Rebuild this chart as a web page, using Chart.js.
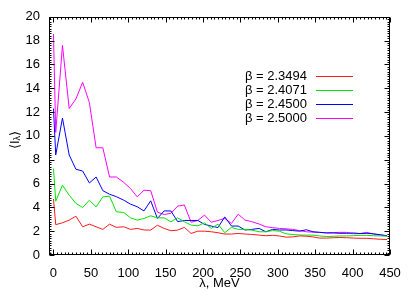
<!DOCTYPE html>
<html>
<head>
<meta charset="utf-8">
<script src="https://cdn.jsdelivr.net/npm/chart.js@4.4.0/dist/chart.umd.min.js"></script>
<style>
  html, body { margin: 0; padding: 0; background: #ffffff; }
  #wrap { width: 415px; height: 291px; }
</style>
</head>
<body>
<div id="wrap"><canvas id="c" width="415" height="291"></canvas></div>
<script>
// ---- data ----
const lambdaMeV = [0, 3, 12, 21, 30, 39, 48, 57, 66, 75, 84, 94, 103, 112, 121, 130, 139, 148, 157, 166,
  175, 184, 193, 202, 211, 220, 229, 238, 247, 256, 265, 275, 284, 293, 302, 311, 320, 329, 338, 347,
  356, 365, 374, 383, 392, 401, 410, 419, 428, 437, 446];

const beta23494 = [4.7, 2.55, 2.7, 2.93, 3.26, 2.37, 2.59, 2.37, 2.15, 2.59, 2.32, 2.37, 2.15, 2.23, 2.1,
  2.09, 2.5, 2.23, 2.04, 2.09, 2.32, 1.81, 2.0, 2.0, 1.95, 1.87, 1.76, 1.76, 1.81, 1.76, 1.73, 1.67, 1.62,
  1.65, 1.6, 1.5, 1.52, 1.6, 1.58, 1.52, 1.42, 1.42, 1.45, 1.47, 1.45, 1.42, 1.4, 1.4, 1.36, 1.32, 1.3];

const beta24071 = [7.25, 4.52, 5.86, 5.02, 4.33, 3.99, 4.6, 4.04, 4.88, 4.94, 3.63, 3.57, 3.12, 2.93, 3.07,
  3.29, 3.12, 3.12, 2.79, 3.12, 2.79, 2.51, 2.45, 2.7, 2.23, 2.59, 1.87, 2.32, 2.15, 2.15, 2.09, 1.95, 1.95,
  2.05, 2.0, 1.78, 1.72, 1.68, 1.67, 1.67, 1.6, 1.55, 1.57, 1.6, 1.6, 1.62, 1.65, 1.65, 1.62, 1.6, 1.58];

const beta24500 = [12.3, 8.4, 11.5, 8.4, 7.2, 7.05, 6.05, 6.55, 5.4, 5.1, 4.9, 4.6, 4.27, 4.05, 3.7,
  4.55, 3.07, 3.7, 3.7, 2.8, 2.9, 2.9, 2.9, 2.57, 2.43, 2.3, 3.2, 2.43, 2.43, 2.1, 2.15, 2.23, 1.95,
  2.15, 2.1, 2.1, 2.05, 2.0, 2.12, 1.95, 1.9, 1.85, 1.85, 1.82, 1.82, 1.85, 1.8, 1.82, 1.78, 1.7, 1.62];

const beta25000 = [18.55, 10.3, 17.6, 12.3, 13.1, 14.5, 12.8, 9.0, 9.0, 6.55, 6.55, 6.1, 5.58, 4.88, 5.44,
  5.4, 3.6, 3.4, 3.5, 4.1, 4.2, 2.75, 2.9, 3.35, 2.75, 2.9, 3.07, 2.65, 3.43, 2.93, 2.8, 2.6, 2.37,
  2.3, 2.23, 2.2, 2.15, 2.05, 1.95, 1.92, 1.9, 1.87, 1.88, 1.9, 1.9, 1.78, 1.8, 1.9, 1.75, 1.68, 1.62];

const seriesLabels = ["β = 2.3494", "β = 2.4071", "β = 2.4500", "β = 2.5000"];
const seriesColors = ["#ff1a1a", "#00e600", "#0000ff", "#ff00ff"];
const xTickValues = [0, 50, 100, 150, 200, 250, 300, 350, 400, 450];
const yTickValues = [0, 2, 4, 6, 8, 10, 12, 14, 16, 18, 20];
const xTitle = "λ, MeV";
const xRange = [-6, 450];
const yRange = [0, 20];

const FONT = "'Liberation Sans', Arial, Helvetica, sans-serif";

function pts(arr) { return arr.map((v, i) => ({ x: lambdaMeV[i], y: v })); }
const seriesValues = [beta23494, beta24071, beta24500, beta25000];

const datasets = seriesValues.map((arr, i) => ({
  label: seriesLabels[i],
  data: pts(arr),
  borderColor: seriesColors[i],
  backgroundColor: seriesColors[i],
  borderWidth: 1,
  pointRadius: 0,
  tension: 0,
  fill: false
}));

const framePlugin = {
  id: 'frame',
  afterDraw(chart) {
    const ctx = chart.ctx;
    const a = chart.chartArea;
    const xs = chart.scales.x, ys = chart.scales.y;
    ctx.save();
    ctx.strokeStyle = '#000';
    ctx.lineWidth = 1;
    const L = Math.round(a.left) + 0.5, R = Math.round(a.right) - 0.5;
    const T = Math.round(a.top) + 0.5, B = Math.round(a.bottom) - 0.5;
    ctx.beginPath();
    for (let v = -5; v <= 450; v += 5) {
      const px = Math.round(xs.getPixelForValue(v)) + 0.5;
      const len = (v % 50 === 0) ? 5 : 2;
      ctx.moveTo(px, B); ctx.lineTo(px, B - len);
      ctx.moveTo(px, T); ctx.lineTo(px, T + len);
    }
    for (let k = 0; k <= 100; k++) {
      const v = k * 0.2;
      const py = Math.round(ys.getPixelForValue(v)) + 0.5;
      const len = (k % 10 === 0) ? 5 : 2;
      ctx.moveTo(L, py); ctx.lineTo(L + len, py);
      ctx.moveTo(R, py); ctx.lineTo(R - len, py);
    }
    ctx.stroke();
    ctx.strokeRect(L, T, R - L, B - T);

    // legend
    ctx.font = '13px ' + FONT;
    ctx.textBaseline = 'middle';
    ctx.textAlign = 'right';
    chart.data.datasets.forEach((ds, i) => {
      const y = 76 + 14 * i;
      ctx.fillStyle = '#000';
      ctx.fillText(ds.label, 307, y);
      ctx.strokeStyle = ds.borderColor;
      ctx.beginPath();
      ctx.moveTo(316, y + 0.5); ctx.lineTo(353, y + 0.5);
      ctx.stroke();
    });

    // x title
    ctx.fillStyle = '#000';
    ctx.textAlign = 'center';
    ctx.textBaseline = 'middle';
    ctx.font = '13px ' + FONT;
    ctx.fillText(xTitle, (a.left + a.right) / 2, 283);

    // y title: <I_λ>
    ctx.save();
    ctx.translate(15, 140);
    ctx.rotate(-Math.PI / 2);
    ctx.textAlign = 'left';
    ctx.textBaseline = 'middle';
    const big = '13px ' + FONT, small = '9px ' + FONT;
    ctx.font = big; const w1 = ctx.measureText('⟨I').width;
    ctx.font = small; const w2 = ctx.measureText('λ').width;
    ctx.font = big; const w3 = ctx.measureText('⟩').width;
    let x0 = -(w1 + w2 + w3) / 2;
    ctx.font = big; ctx.fillText('⟨I', x0, 0);
    ctx.font = small; ctx.fillText('λ', x0 + w1, 3);
    ctx.font = big; ctx.fillText('⟩', x0 + w1 + w2, 0);
    ctx.restore();

    ctx.restore();
  }
};

new Chart(document.getElementById('c'), {
  type: 'line',
  data: { datasets },
  plugins: [framePlugin],
  options: {
    responsive: false,
    animation: false,
    layout: { padding: { left: 0, top: 16, right: 25, bottom: 0 } },
    plugins: { legend: { display: false }, tooltip: { enabled: false } },
    scales: {
      x: {
        type: 'linear',
        bounds: 'data',
        grid: { display: false, drawTicks: false },
        border: { display: false },
        afterDataLimits(scale) { scale.min = xRange[0]; scale.max = xRange[1]; },
        afterBuildTicks(scale) { scale.ticks = xTickValues.map(v => ({ value: v })); },
        afterFit(scale) { scale.height = 36; },
        ticks: { color: '#000', font: { family: FONT, size: 13 }, padding: 11, maxRotation: 0, autoSkip: false }
      },
      y: {
        type: 'linear',
        bounds: 'data',
        grid: { display: false, drawTicks: false },
        border: { display: false },
        afterDataLimits(scale) { scale.min = yRange[0]; scale.max = yRange[1]; },
        afterBuildTicks(scale) { scale.ticks = yTickValues.map(v => ({ value: v })); },
        afterFit(scale) { scale.width = 49; },
        ticks: { color: '#000', font: { family: FONT, size: 13 }, padding: 9, autoSkip: false }
      }
    }
  }
});
</script>
</body>
</html>
